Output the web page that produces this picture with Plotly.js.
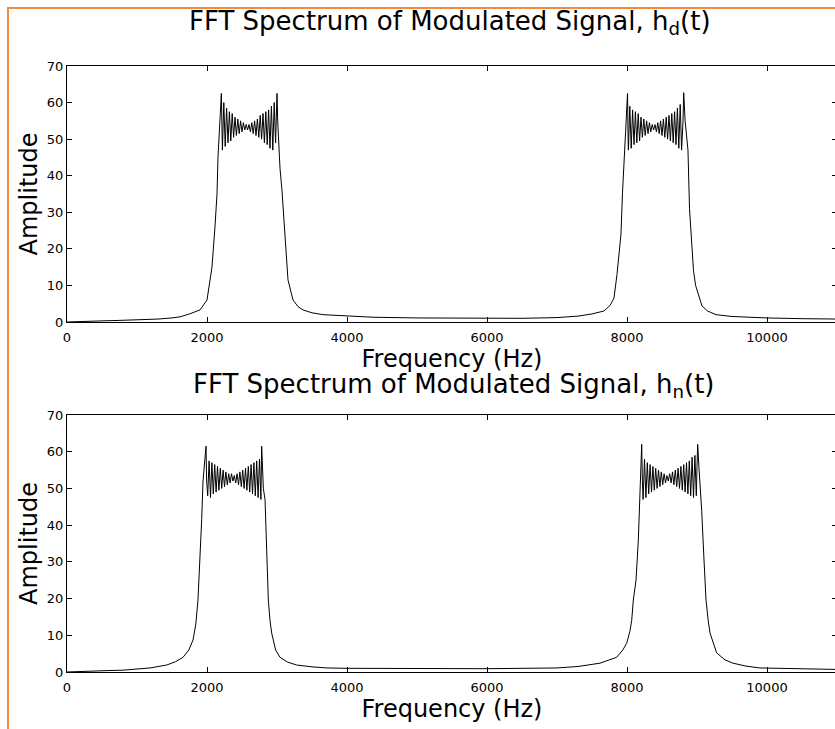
<!DOCTYPE html>
<html>
<head>
<meta charset="utf-8">
<script src="https://cdn.plot.ly/plotly-3.0.1.min.js"></script>
<style>
  html, body { margin: 0; padding: 0; overflow: hidden; background: #fff; }
  #chart { position: absolute; left: 0; top: 0; }
  #frame { position: absolute; left: 7px; top: 7px; width: 900px; height: 800px;
           border-top: 2px solid #f58a3c; border-left: 2px solid #f58a3c; pointer-events: none; }
</style>
</head>
<body>
<div id="chart"></div>
<div id="frame"></div>
<script>
// ---- Data ----
const xTicks = [0, 2000, 4000, 6000, 8000, 10000];
const yTicks = [0, 10, 20, 30, 40, 50, 60, 70];

// Spectrum of h_d(t)
const freqD = [
  0, 100, 300, 500, 700, 900, 1100, 1300, 1500, 1614, 1750, 1900, 2000, 2071, 2114, 2143, 2157, 2175, 2190, 2205, 2212,
  2220, 2240, 2260, 2280, 2300, 2320, 2340, 2360, 2380, 2400, 2420, 2440, 2460, 2480, 2500, 2520, 2540, 2560, 2580, 2600,
  2620, 2640, 2660, 2680, 2700, 2720, 2740, 2760, 2780, 2800, 2820, 2840, 2860, 2880, 2900, 2920, 2940, 2960, 2980,
  2990, 3000, 3010, 3025, 3043, 3071, 3100, 3129, 3157, 3229, 3300, 3371, 3500, 3657, 4000, 4371, 5000, 5500, 6000, 6500,
  7000, 7300, 7500, 7671, 7757, 7814, 7857, 7890, 7914, 7936, 7957, 7980, 7995, 8008, 8014,
  8020, 8040, 8060, 8080, 8100, 8120, 8140, 8160, 8180, 8200, 8220, 8240, 8260, 8280, 8300, 8320, 8340, 8360, 8380, 8400,
  8420, 8440, 8460, 8480, 8500, 8520, 8540, 8560, 8580, 8600, 8620, 8640, 8660, 8680, 8700, 8720, 8740, 8760, 8780, 8800,
  8810, 8830, 8850, 8871, 8893, 8929, 8950, 8980, 9071, 9150, 9271, 9500, 9800, 10000, 10500, 11000
];
const ampD = [
  0, 0.1, 0.2, 0.3, 0.4, 0.5, 0.6, 0.8, 1.1, 1.4, 2.2, 3.3, 6, 15, 26, 35, 45, 50, 57, 62.5, 50,
  47, 60, 48, 58.5, 49, 57.5, 49.5, 57, 50.5, 56, 51, 55.5, 51.5, 55, 52, 54.5, 52.5, 54, 52.5, 54,
  52, 54.5, 51.5, 55, 51, 55.5, 50.5, 56.5, 50, 57, 49, 57.5, 48.5, 58, 47.5, 59, 47, 60, 49,
  56, 62.5, 55, 48, 42, 36, 27, 19, 11.5, 6, 4.2, 3.3, 2.5, 2, 1.6, 1.3, 1.1, 1.0, 0.9, 1.0,
  1.2, 1.6, 2.2, 3, 4.5, 6.5, 13, 19, 24, 35.5, 45.5, 52, 58, 62.5, 52,
  47, 59, 47.5, 58, 48.5, 57.5, 49, 57, 49.5, 56, 50.5, 55.5, 51, 55, 51.5, 54.5, 52, 54, 52.5, 54,
  52, 54.5, 51.5, 55, 51, 55.5, 50.5, 56, 50, 56.5, 49.5, 57, 49, 57.5, 48.5, 58.5, 47.5, 59.5, 47, 55,
  62.7, 55, 50, 47, 31, 19.7, 14, 10, 4.4, 3, 2, 1.5, 1.2, 1.1, 0.9, 0.8
];

// Spectrum of h_n(t)
const freqN = [
  0, 200, 400, 600, 800, 1000, 1186, 1424, 1550, 1657, 1740, 1800, 1840, 1871, 1900, 1924, 1943, 1965, 1986, 1995,
  2010, 2030, 2050, 2070, 2090, 2110, 2130, 2150, 2170, 2190, 2210, 2230, 2250, 2270, 2290, 2310, 2330, 2350, 2370, 2390,
  2410, 2430, 2450, 2470, 2490, 2510, 2530, 2550, 2570, 2590, 2610, 2630, 2650, 2670, 2690, 2710, 2730, 2750, 2770,
  2781, 2790, 2805, 2829, 2852, 2876, 2900, 2924, 2980, 3043, 3150, 3281, 3500, 3710, 4000, 5000, 6000, 7000, 7300, 7614,
  7852, 7940, 7995, 8040, 8067, 8090, 8129, 8162, 8180, 8195, 8210, 8220,
  8230, 8250, 8270, 8290, 8310, 8330, 8350, 8370, 8390, 8410, 8430, 8450, 8470, 8490, 8510, 8530, 8550, 8570, 8590, 8610,
  8630, 8650, 8670, 8690, 8710, 8730, 8750, 8770, 8790, 8810, 8830, 8850, 8870, 8890, 8910, 8930, 8950, 8970, 8990,
  9000, 9010, 9030, 9050, 9067, 9100, 9129, 9160, 9186, 9281, 9400, 9514, 9700, 9900, 10300, 11000
];
const ampN = [
  0, 0.2, 0.3, 0.4, 0.5, 0.8, 1.1, 1.9, 2.8, 4, 6, 8.7, 13, 19.6, 30.5, 41.5, 52, 58, 61.5, 52,
  48, 57.5, 47.5, 57, 48.5, 56.5, 49, 56, 49.5, 55.5, 50, 55, 50.5, 54.5, 51, 54, 51.5, 54, 52, 53.5,
  51.5, 54, 51, 54.5, 50.5, 55, 50, 55.5, 49.5, 56, 49, 56.5, 48.5, 57, 48, 57.5, 47.5, 58, 47,
  61.5, 55, 50, 47, 30.5, 19.6, 14, 10.6, 6, 4, 2.7, 1.9, 1.4, 1.1, 1.0, 0.9, 0.9, 1.1, 1.5, 2.4,
  4, 6, 7.8, 11, 14, 19.6, 25, 36, 45, 52, 62, 52,
  47, 58, 47.5, 57, 48.5, 56.5, 49, 56, 49.5, 55.5, 50, 55, 50.5, 54.5, 51, 54, 51.5, 53.5, 52, 54,
  51.5, 54.5, 51, 55, 50.5, 55.5, 50, 56, 49.5, 56.5, 49, 57, 48.5, 57.5, 48, 58.5, 47.5, 59, 48,
  56, 62, 55, 50, 44, 30.5, 19.6, 14, 10.6, 5.2, 3.3, 2.4, 1.6, 1.1, 0.9, 0.7
];

const titleD = 'FFT Spectrum of Modulated Signal, h<sub>d</sub>(t)';
const titleN = 'FFT Spectrum of Modulated Signal, h<sub>n</sub>(t)';
const xLabel = 'Frequency (Hz)';
const yLabel = 'Amplitude';

// ---- Chart ----
const FONT = '"DejaVu Sans", Verdana, sans-serif';
const lineStyle = { color: 'black', width: 1 };
const traces = [
  { x: freqD, y: ampD, type: 'scatter', mode: 'lines', line: lineStyle, xaxis: 'x', yaxis: 'y', hoverinfo: 'skip' },
  { x: freqN, y: ampN, type: 'scatter', mode: 'lines', line: lineStyle, xaxis: 'x2', yaxis: 'y2', hoverinfo: 'skip' }
];

function xAxis(anchor) {
  return {
    anchor: anchor, domain: [0, 1], range: [0, 11000],
    tickvals: xTicks, ticktext: xTicks.map(String),
    ticks: 'inside', ticklen: 5, tickcolor: 'black',
    showline: true, linecolor: 'black', linewidth: 1, mirror: 'ticks',
    showgrid: false, zeroline: false, automargin: false,
    tickfont: { family: FONT, size: 13, color: 'black' },
    ticklabelstandoff: 3,
    title: { text: xLabel, font: { family: FONT, size: 24, color: 'black' }, standoff: 4 }
  };
}
function yAxis(anchor, domain) {
  return {
    anchor: anchor, domain: domain, range: [0, 70],
    tickvals: yTicks, ticktext: yTicks.map(String),
    ticks: 'inside', ticklen: 5, tickcolor: 'black',
    showline: true, linecolor: 'black', linewidth: 1, mirror: 'ticks',
    showgrid: false, zeroline: false, automargin: false,
    tickfont: { family: FONT, size: 13, color: 'black' },
    title: { text: yLabel, font: { family: FONT, size: 24, color: 'black' }, standoff: 2 }
  };
}

const layout = {
  width: 840, height: 729,
  margin: { l: 67, r: 3, t: 66, b: 57 },
  paper_bgcolor: 'white', plot_bgcolor: 'white',
  showlegend: false,
  font: { family: FONT, color: 'black' },
  xaxis: xAxis('y'),
  yaxis: yAxis('x', [0.5776, 1]),
  xaxis2: xAxis('y2'),
  yaxis2: yAxis('x2', [0, 0.4241]),
  annotations: [
    { text: titleD, xref: 'paper', yref: 'paper', x: 0.497, y: 1.072, xanchor: 'center', yanchor: 'middle',
      showarrow: false, font: { family: FONT, size: 26, color: 'black' } },
    { text: titleN, xref: 'paper', yref: 'paper', x: 0.503, y: 0.4735, xanchor: 'center', yanchor: 'middle',
      showarrow: false, font: { family: FONT, size: 26, color: 'black' } }
  ]
};

Plotly.newPlot('chart', traces, layout, { staticPlot: true, displayModeBar: false });
</script>
</body>
</html>
